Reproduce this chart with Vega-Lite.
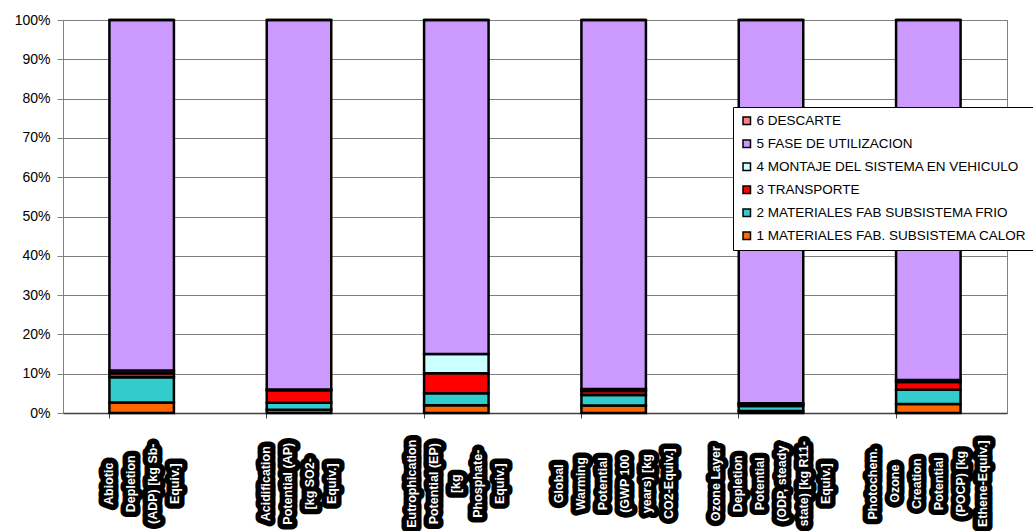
{
  "$schema": "https://vega.github.io/schema/vega-lite/v6.json",
  "autosize": {"type": "none"},
  "padding": {"left": 63, "top": 20, "right": 26, "bottom": 118},
  "width": 944,
  "height": 393,
  "background": "white",
  "config": {
    "font": "Liberation Sans",
    "view": {"stroke": "#808080", "strokeWidth": 1},
    "axis": {"labelFont": "Liberation Sans", "labelColor": "black"},
    "axisX": {
      "title": null,
      "labels": false,
      "bandPosition": 0,
      "domainColor": "#404040",
      "domainWidth": 1.5,
      "tickColor": "#404040",
      "tickSize": 5,
      "grid": false
    },
    "axisY": {
      "title": null,
      "format": ".0%",
      "values": [0, 0.1, 0.2, 0.3, 0.4, 0.5, 0.6, 0.7, 0.8, 0.9, 1],
      "labelFontSize": 14,
      "labelPadding": 7,
      "tickSize": 6,
      "tickColor": "#808080",
      "domainColor": "#808080",
      "grid": true,
      "gridColor": "#808080",
      "gridOpacity": 1,
      "gridWidth": 1
    },
    "text": {
      "angle": 270,
      "align": "center",
      "baseline": "middle",
      "lineHeight": 22,
      "lineBreak": "\n",
      "font": "Liberation Sans",
      "fontWeight": "bold",
      "fontSize": 12.5
    }
  },
  "datasets": {
    "impacts": [
      {"category": "Abiotic Depletion (ADP) [kg Sb-Equiv.]", "k": 1, "stage": "1 MATERIALES FAB. SUBSISTEMA CALOR", "share": 0.027},
      {"category": "Abiotic Depletion (ADP) [kg Sb-Equiv.]", "k": 2, "stage": "2 MATERIALES FAB SUBSISTEMA FRIO", "share": 0.064},
      {"category": "Abiotic Depletion (ADP) [kg Sb-Equiv.]", "k": 3, "stage": "3 TRANSPORTE", "share": 0.010},
      {"category": "Abiotic Depletion (ADP) [kg Sb-Equiv.]", "k": 4, "stage": "4 MONTAJE DEL SISTEMA EN VEHICULO", "share": 0.007},
      {"category": "Abiotic Depletion (ADP) [kg Sb-Equiv.]", "k": 5, "stage": "5 FASE DE UTILIZACION", "share": 0.892},
      {"category": "Abiotic Depletion (ADP) [kg Sb-Equiv.]", "k": 6, "stage": "6 DESCARTE", "share": 0.000},

      {"category": "Acidification Potential (AP) [kg SO2-Equiv.]", "k": 1, "stage": "1 MATERIALES FAB. SUBSISTEMA CALOR", "share": 0.008},
      {"category": "Acidification Potential (AP) [kg SO2-Equiv.]", "k": 2, "stage": "2 MATERIALES FAB SUBSISTEMA FRIO", "share": 0.018},
      {"category": "Acidification Potential (AP) [kg SO2-Equiv.]", "k": 3, "stage": "3 TRANSPORTE", "share": 0.032},
      {"category": "Acidification Potential (AP) [kg SO2-Equiv.]", "k": 4, "stage": "4 MONTAJE DEL SISTEMA EN VEHICULO", "share": 0.002},
      {"category": "Acidification Potential (AP) [kg SO2-Equiv.]", "k": 5, "stage": "5 FASE DE UTILIZACION", "share": 0.940},
      {"category": "Acidification Potential (AP) [kg SO2-Equiv.]", "k": 6, "stage": "6 DESCARTE", "share": 0.000},

      {"category": "Eutrophication Potential (EP) [kg Phosphate-Equiv.]", "k": 1, "stage": "1 MATERIALES FAB. SUBSISTEMA CALOR", "share": 0.020},
      {"category": "Eutrophication Potential (EP) [kg Phosphate-Equiv.]", "k": 2, "stage": "2 MATERIALES FAB SUBSISTEMA FRIO", "share": 0.030},
      {"category": "Eutrophication Potential (EP) [kg Phosphate-Equiv.]", "k": 3, "stage": "3 TRANSPORTE", "share": 0.051},
      {"category": "Eutrophication Potential (EP) [kg Phosphate-Equiv.]", "k": 4, "stage": "4 MONTAJE DEL SISTEMA EN VEHICULO", "share": 0.049},
      {"category": "Eutrophication Potential (EP) [kg Phosphate-Equiv.]", "k": 5, "stage": "5 FASE DE UTILIZACION", "share": 0.850},
      {"category": "Eutrophication Potential (EP) [kg Phosphate-Equiv.]", "k": 6, "stage": "6 DESCARTE", "share": 0.000},

      {"category": "Global Warming Potential (GWP 100 years) [kg CO2-Equiv.]", "k": 1, "stage": "1 MATERIALES FAB. SUBSISTEMA CALOR", "share": 0.019},
      {"category": "Global Warming Potential (GWP 100 years) [kg CO2-Equiv.]", "k": 2, "stage": "2 MATERIALES FAB SUBSISTEMA FRIO", "share": 0.027},
      {"category": "Global Warming Potential (GWP 100 years) [kg CO2-Equiv.]", "k": 3, "stage": "3 TRANSPORTE", "share": 0.010},
      {"category": "Global Warming Potential (GWP 100 years) [kg CO2-Equiv.]", "k": 4, "stage": "4 MONTAJE DEL SISTEMA EN VEHICULO", "share": 0.005},
      {"category": "Global Warming Potential (GWP 100 years) [kg CO2-Equiv.]", "k": 5, "stage": "5 FASE DE UTILIZACION", "share": 0.939},
      {"category": "Global Warming Potential (GWP 100 years) [kg CO2-Equiv.]", "k": 6, "stage": "6 DESCARTE", "share": 0.000},

      {"category": "Ozone Layer Depletion Potential (ODP, steady state) [kg R11-Equiv.]", "k": 1, "stage": "1 MATERIALES FAB. SUBSISTEMA CALOR", "share": 0.005},
      {"category": "Ozone Layer Depletion Potential (ODP, steady state) [kg R11-Equiv.]", "k": 2, "stage": "2 MATERIALES FAB SUBSISTEMA FRIO", "share": 0.013},
      {"category": "Ozone Layer Depletion Potential (ODP, steady state) [kg R11-Equiv.]", "k": 3, "stage": "3 TRANSPORTE", "share": 0.004},
      {"category": "Ozone Layer Depletion Potential (ODP, steady state) [kg R11-Equiv.]", "k": 4, "stage": "4 MONTAJE DEL SISTEMA EN VEHICULO", "share": 0.003},
      {"category": "Ozone Layer Depletion Potential (ODP, steady state) [kg R11-Equiv.]", "k": 5, "stage": "5 FASE DE UTILIZACION", "share": 0.975},
      {"category": "Ozone Layer Depletion Potential (ODP, steady state) [kg R11-Equiv.]", "k": 6, "stage": "6 DESCARTE", "share": 0.000},

      {"category": "Photochem. Ozone Creation Potential (POCP) [kg Ethene-Equiv.]", "k": 1, "stage": "1 MATERIALES FAB. SUBSISTEMA CALOR", "share": 0.023},
      {"category": "Photochem. Ozone Creation Potential (POCP) [kg Ethene-Equiv.]", "k": 2, "stage": "2 MATERIALES FAB SUBSISTEMA FRIO", "share": 0.036},
      {"category": "Photochem. Ozone Creation Potential (POCP) [kg Ethene-Equiv.]", "k": 3, "stage": "3 TRANSPORTE", "share": 0.020},
      {"category": "Photochem. Ozone Creation Potential (POCP) [kg Ethene-Equiv.]", "k": 4, "stage": "4 MONTAJE DEL SISTEMA EN VEHICULO", "share": 0.005},
      {"category": "Photochem. Ozone Creation Potential (POCP) [kg Ethene-Equiv.]", "k": 5, "stage": "5 FASE DE UTILIZACION", "share": 0.916},
      {"category": "Photochem. Ozone Creation Potential (POCP) [kg Ethene-Equiv.]", "k": 6, "stage": "6 DESCARTE", "share": 0.000}
    ],
    "labels": [
      {"category": "Abiotic Depletion (ADP) [kg Sb-Equiv.]", "lines": ["Abiotic", "Depletion", "(ADP) [kg Sb-", "Equiv.]"]},
      {"category": "Acidification Potential (AP) [kg SO2-Equiv.]", "lines": ["Acidification", "Potential (AP)", "[kg SO2-", "Equiv.]"]},
      {"category": "Eutrophication Potential (EP) [kg Phosphate-Equiv.]", "lines": ["Eutrophication", "Potential (EP)", "[kg", "Phosphate-", "Equiv.]"]},
      {"category": "Global Warming Potential (GWP 100 years) [kg CO2-Equiv.]", "lines": ["Global", "Warming", "Potential", "(GWP 100", "years) [kg", "CO2-Equiv.]"]},
      {"category": "Ozone Layer Depletion Potential (ODP, steady state) [kg R11-Equiv.]", "lines": ["Ozone Layer", "Depletion", "Potential", "(ODP, steady", "state) [kg R11-", "Equiv.]"]},
      {"category": "Photochem. Ozone Creation Potential (POCP) [kg Ethene-Equiv.]", "lines": ["Photochem.", "Ozone", "Creation", "Potential", "(POCP) [kg", "Ethene-Equiv.]"]}
    ]
  },
  "encoding": {
    "x": {
      "field": "category",
      "type": "nominal",
      "sort": null,
      "scale": {"paddingInner": 0.59, "paddingOuter": 0.295}
    }
  },
  "layer": [
    {
      "data": {"name": "impacts"},
      "mark": {"type": "bar", "stroke": "black", "strokeWidth": 2.5},
      "encoding": {
        "y": {
          "field": "share",
          "type": "quantitative",
          "stack": "zero",
          "scale": {"domain": [0, 1], "nice": false}
        },
        "order": {"field": "k", "type": "quantitative"},
        "color": {
          "field": "stage",
          "type": "nominal",
          "scale": {
            "domain": ["6 DESCARTE", "5 FASE DE UTILIZACION", "4 MONTAJE DEL SISTEMA EN VEHICULO", "3 TRANSPORTE", "2 MATERIALES FAB SUBSISTEMA FRIO", "1 MATERIALES FAB. SUBSISTEMA CALOR"],
            "range": ["#FF8080", "#CC99FF", "#CCFFFF", "#FF0000", "#33CCCC", "#FF6600"]
          },
          "legend": {
            "title": null,
            "orient": "none",
            "legendX": 670,
            "legendY": 87,
            "fillColor": "white",
            "strokeColor": "black",
            "padding": 7,
            "cornerRadius": 0,
            "symbolType": "square",
            "symbolSize": 56,
            "symbolStrokeColor": "black",
            "symbolStrokeWidth": 1.5,
            "labelFont": "Liberation Sans",
            "labelFontSize": 13.5,
            "labelColor": "black",
            "labelOffset": 3,
            "labelLimit": 400,
            "rowPadding": 8
          }
        }
      }
    },
    {
      "data": {"name": "labels"},
      "transform": [{"filter": "length(datum.lines) == 4"}],
      "mark": {"type": "text", "dy": -33, "fill": "black", "stroke": "black", "strokeWidth": 11, "strokeJoin": "round"},
      "encoding": {"y": {"datum": -0.18, "type": "quantitative"}, "text": {"field": "lines"}}
    },
    {
      "data": {"name": "labels"},
      "transform": [{"filter": "length(datum.lines) == 5"}],
      "mark": {"type": "text", "dy": -44, "fill": "black", "stroke": "black", "strokeWidth": 11, "strokeJoin": "round"},
      "encoding": {"y": {"datum": -0.18, "type": "quantitative"}, "text": {"field": "lines"}}
    },
    {
      "data": {"name": "labels"},
      "transform": [{"filter": "length(datum.lines) == 6"}],
      "mark": {"type": "text", "dy": -55, "fill": "black", "stroke": "black", "strokeWidth": 11, "strokeJoin": "round"},
      "encoding": {"y": {"datum": -0.18, "type": "quantitative"}, "text": {"field": "lines"}}
    },
    {
      "data": {"name": "labels"},
      "transform": [{"filter": "length(datum.lines) == 4"}],
      "mark": {"type": "text", "dy": -33, "fill": "white"},
      "encoding": {"y": {"datum": -0.18, "type": "quantitative"}, "text": {"field": "lines"}}
    },
    {
      "data": {"name": "labels"},
      "transform": [{"filter": "length(datum.lines) == 5"}],
      "mark": {"type": "text", "dy": -44, "fill": "white"},
      "encoding": {"y": {"datum": -0.18, "type": "quantitative"}, "text": {"field": "lines"}}
    },
    {
      "data": {"name": "labels"},
      "transform": [{"filter": "length(datum.lines) == 6"}],
      "mark": {"type": "text", "dy": -55, "fill": "white"},
      "encoding": {"y": {"datum": -0.18, "type": "quantitative"}, "text": {"field": "lines"}}
    }
  ]
}
